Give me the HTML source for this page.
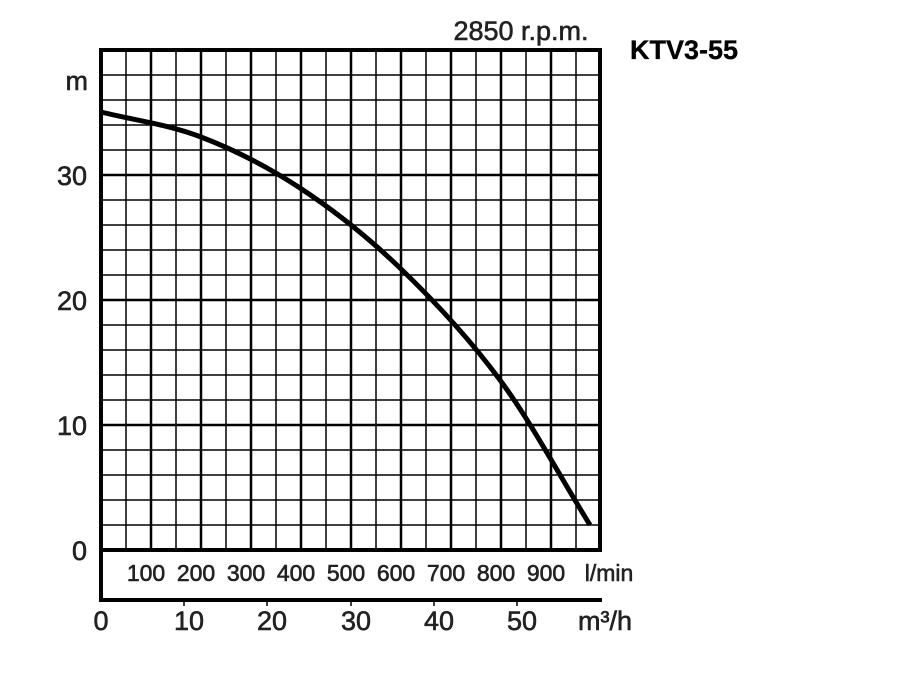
<!DOCTYPE html>
<html><head><meta charset="utf-8"><style>
body{margin:0;background:#fff}
svg{display:block}
text{font-family:"Liberation Sans",Arial,sans-serif;fill:#222;stroke:#222;stroke-width:0.6}
</style></head><body>
<svg width="900" height="700" viewBox="0 0 900 700" xmlns="http://www.w3.org/2000/svg">
<g stroke="#000" stroke-width="1.5">
<path d="M126 50V550M176 50V550M226 50V550M276 50V550M326 50V550M376 50V550M426 50V550M476 50V550M526 50V550M576 50V550"/>
<path d="M101 75H600M101 100H600M101 125H600M101 150H600M101 200H600M101 225H600M101 250H600M101 275H600M101 325H600M101 350H600M101 375H600M101 400H600M101 450H600M101 475H600M101 500H600M101 525H600"/>
</g>
<g stroke="#000" stroke-width="2.5">
<path d="M151 50V550M201 50V550M251 50V550M301 50V550M351 50V550M401 50V550M451 50V550M501 50V550M551 50V550"/>
<path d="M101 175H600M101 300H600M101 425H600"/>
</g>
<g stroke="#000" stroke-width="4" fill="none">
<path d="M101 48V602M99 50H602M600 48V552M99 550H602M99 600H602"/>
</g>
<path d="M101 112 C134.3 120.3,167.8 124.3,201 137 C234.2 149.7,266.8 166.2,300 188 C333.2 209.8,366.7 236,400 268 C433.3 300,468.3 337.2,500 380 C531.7 422.8,560 476.7,590 525" stroke="#000" stroke-width="5" fill="none"/>
<g stroke="#000" stroke-width="1.5"><path d="M184 600V606M267 600V606M351 600V606M434 600V606M517 600V606"/></g>
<g font-size="27" text-anchor="end">
<text x="88" y="90">m</text>
<text x="87" y="185">30</text>
<text x="87" y="310">20</text>
<text x="87" y="435">10</text>
<text x="87" y="560">0</text>
</g>
<g font-size="23" text-anchor="middle">
<text x="146" y="581">100</text><text x="196" y="581">200</text><text x="246" y="581">300</text>
<text x="296" y="581">400</text><text x="346" y="581">500</text><text x="396" y="581">600</text>
<text x="446" y="581">700</text><text x="496" y="581">800</text><text x="546" y="581">900</text>
<text x="609" y="581">l/min</text>
</g>
<g font-size="27" text-anchor="middle">
<text x="101" y="630">0</text><text x="189" y="630">10</text><text x="272" y="630">20</text>
<text x="356" y="630">30</text><text x="439" y="630">40</text><text x="522" y="630">50</text>
<text x="605" y="630">m³/h</text>
</g>
<text x="521" y="40" font-size="27" text-anchor="middle">2850 r.p.m.</text>
<text x="630" y="59" font-size="27" font-weight="bold" style="fill:#000;stroke:#000;stroke-width:0.3">KTV3-55</text>
</svg>
</body></html>
